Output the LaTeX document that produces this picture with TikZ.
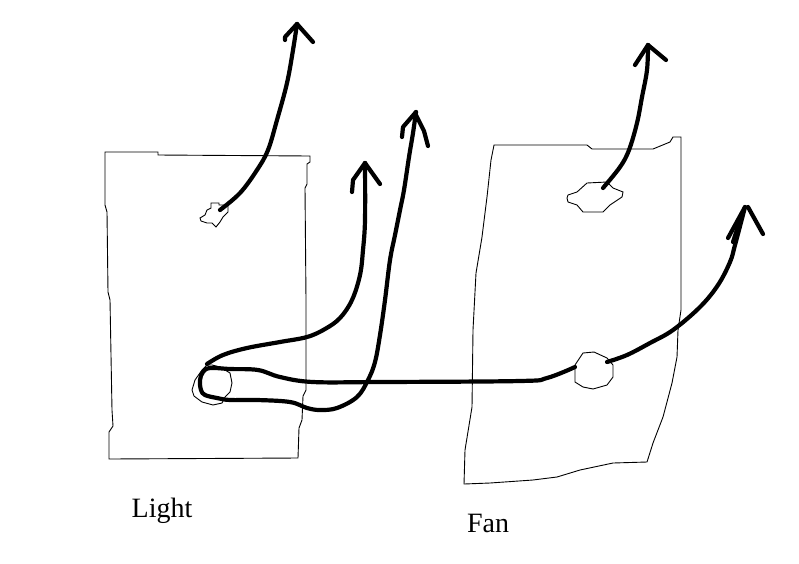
\documentclass[tikz,border=0pt]{standalone}
\usepackage{fontspec}
\setmainfont{Liberation Serif}
\begin{document}
\begin{tikzpicture}[x=1pt,y=-1pt,
  outline/.style={draw=black, line width=0.9pt, line join=miter},
  wire/.style={draw=black, line width=4.2pt, line cap=round, line join=round},
  lbl/.style={font=\fontsize{28}{31}\selectfont, anchor=base, inner sep=0pt}]
\useasboundingbox[fill=white] (0,0) rectangle (799,563);

% Light panel
\draw[outline] (105,152) -- (158,152) -- (158,155) -- (310,156) -- (310,162) -- (307,164)
  -- (307,184) -- (305,188) -- (306,300) -- (306,390) -- (303,396) -- (302,420) -- (299,428)
  -- (298,458) -- (109,459) -- (109,432) -- (113,426) -- (112,410) -- (110,300) -- (108,292)
  -- (107,212) -- (105,205) -- cycle;

% Fan panel
\draw[outline] (494,145) -- (587,145) -- (592,149) -- (653,149) -- (670,142) -- (673,137)
  -- (681,137) -- (681,310) -- (678,330) -- (677,357) -- (672,383) -- (663,417) -- (653,443)
  -- (647,462) -- (613,463) -- (580,470) -- (557,477) -- (533,480) -- (490,483) -- (464,484)
  -- (465,450) -- (472,407) -- (473,330) -- (476,273) -- (482,237) -- (487,197) -- (491,160) -- cycle;

% Light small blob
\draw[outline] (200,218) -- (205,215) -- (207,210) -- (211,208) -- (211,203) -- (219,203)
  -- (219,205) -- (228,205) -- (228,212) -- (223,217) -- (220,222) -- (216,227) -- (212,223)
  -- (207,223) -- (201,221) -- cycle;

% Light socket blob
\draw[outline] (207,365) -- (202,370) -- (195,380) -- (192,390) -- (194,396) -- (202,402)
  -- (213,405) -- (222,403) -- (225,397) -- (230,392) -- (232,383) -- (230,373) -- (220,367)
  -- (212,365) -- cycle;

% Fan top blob
\draw[outline] (567,198) -- (568,195) -- (577,192) -- (587,183) -- (607,182) -- (613,188)
  -- (623,192) -- (622,197) -- (610,205) -- (603,212) -- (583,212) -- (577,205) -- (568,202) -- cycle;

% Fan wire blob
\draw[outline] (575,365) -- (583,353) -- (594,352) -- (607,358) -- (613,365) -- (613,377)
  -- (607,385) -- (593,389) -- (583,387) -- (575,382) -- cycle;

% Arrow from light blob
\draw[wire] plot[smooth, tension=0.6] coordinates {(220,210) (240,193) (257,170) (268,150)
  (277,120) (287,83) (293,50) (297,24)};
\draw[wire] (297,24) -- (285,37) -- (285,40);
\draw[wire] (297,24) -- (313,42);

% Upper loop wire to arrow 2
\draw[wire] plot[smooth, tension=0.6] coordinates {(207,364) (223,355) (247,348) (280,342)
  (307,337) (325,329) (340,318) (352,300) (360,275) (363,250) (365,220) (365,163)};
\draw[wire] (365,163) -- (353,180) -- (352,192);
\draw[wire] (365,163) -- (380,184);

% Long wire: arrow 3 - loop - fan
\draw[wire] plot[smooth, tension=0.6] coordinates {(416,112) (413,133) (409,157) (404,190)
  (400,210) (395,235) (390,260) (385,300) (380,335) (375,362) (368,380) (357,397) (337,408)
  (320,410) (307,408) (290,402) (257,400) (230,400) (217,398) (205,395) (201,390) (200,380)
  (203,372) (210,368) (230,369) (258,370) (280,377) (313,382) (380,382) (520,381) (547,378)
  (575,367)};
\draw[wire] (416,112) -- (403,127) -- (402,137);
\draw[wire] (416,115) -- (424,131) -- (428,146);

% Fan wire right arrow
\draw[wire] plot[smooth, tension=0.6] coordinates {(607,362) (627,355) (650,343) (673,330)
  (700,307) (718,285) (730,262) (735,245) (745,207)};
\draw[wire] (745,207) -- (728,238);
\draw[wire] (748,207) -- (763,234);
\draw[wire] (733,242) -- (742,214);

% Fan top arrow
\draw[wire] plot[smooth, tension=0.6] coordinates {(603,188) (620,167) (629,150) (637,123)
  (642,97) (647,70) (648,45)};
\draw[wire] (648,45) -- (635,65);
\draw[wire] (648,45) -- (666,60);

% Labels
\node[lbl] (lightlabel) at (162,517) {Light};
\node[lbl] (fanlabel) at (488,532) {Fan};
\end{tikzpicture}
\end{document}
